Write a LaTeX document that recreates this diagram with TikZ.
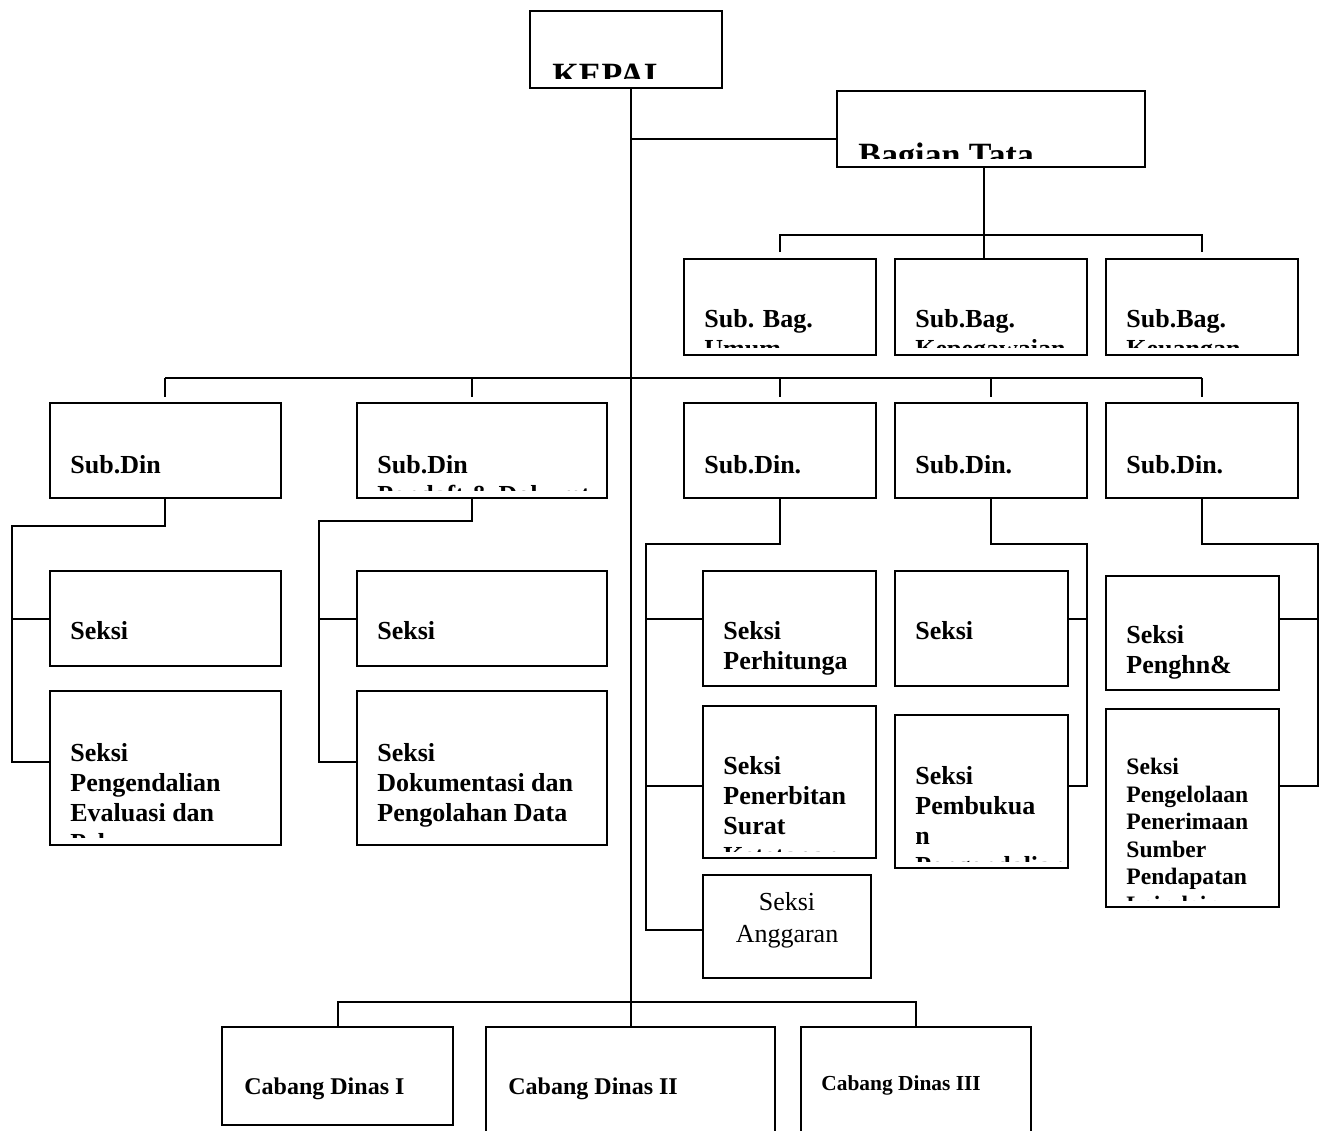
\documentclass[tikz,border=0pt]{standalone}
\usepackage{fontspec}
\setmainfont{Liberation Serif}
\usetikzlibrary{calc}

% box from (x1,y1) to (x2,y2), in pixel units
\newcommand\orgbox[5]{%
  \node[orgbox, minimum width={(#4-#2)*0.5pt}, minimum height={(#5-#3)*0.5pt}]
    (#1) at ({(#2+#4)/2},{(#3+#5)/2}) {};}
% text of a box, cut off at y = #2
\newcommand\boxtext[6]{%
  \begin{scope}
    \clip (#1.north west) rectangle (#1.east |- 0,#2);
    \node[#5, anchor=north west] (#1-t) at (#3,#4) {#6};
  \end{scope}}

\begin{document}
\begin{tikzpicture}
  [x=0.5pt, y=-0.5pt,
   orgbox/.style={draw, line width=1pt, inner sep=0},
   link/.style={line width=1pt},
   lbl/.style={inner sep=0, align=left, font=\bfseries\fontsize{13}{15}\selectfont},
   big/.style={inner sep=0, font=\bfseries\fontsize{17}{20}\selectfont},
   small/.style={inner sep=0, align=left, font=\bfseries\fontsize{11.8}{13.75}\selectfont},
   cab/.style={inner sep=0, font=\bfseries\fontsize{12}{14}\selectfont}]
\path[use as bounding box] (0,0) rectangle (1326,1130);

% boxes
\orgbox{kepala}{530}{11}{722}{88}
\orgbox{bagian}{837}{91}{1145}{167}
\foreach \n/\xa/\xb in {1/684/876, 2/895/1087, 3/1106/1298}
  {\orgbox{subbag\n}{\xa}{259}{\xb}{355}}
\foreach \n/\xa/\xb in {1/50/281, 2/357/607, 3/684/876, 4/895/1087, 5/1106/1298}
  {\orgbox{subdin\n}{\xa}{403}{\xb}{498}}
\orgbox{seksi1a}{50}{571}{281}{666}
\orgbox{seksi1b}{50}{691}{281}{845}
\orgbox{seksi2a}{357}{571}{607}{666}
\orgbox{seksi2b}{357}{691}{607}{845}
\orgbox{seksi3a}{703}{571}{876}{686}
\orgbox{seksi3b}{703}{706}{876}{858}
\orgbox{seksi3c}{703}{875}{871}{978}
\orgbox{seksi4a}{895}{571}{1068}{686}
\orgbox{seksi4b}{895}{715}{1068}{868}
\orgbox{seksi5a}{1106}{576}{1279}{690}
\orgbox{seksi5b}{1106}{709}{1279}{907}
\orgbox{cabang1}{222}{1027}{453}{1125}
\orgbox{cabang2}{486}{1027}{775}{1140}
\orgbox{cabang3}{801}{1027}{1031}{1140}

% texts
\boxtext{kepala}{78}{552}{64}{big}{KEPAL}
\boxtext{bagian}{158}{858}{143}{big}{Bagian Tata}
\boxtext{subbag1}{347}{704}{309}{lbl}{Sub. Bag.\\Umum}
\boxtext{subbag2}{347}{915}{309}{lbl}{Sub.Bag.\\Kepegawaian}
\boxtext{subbag3}{347}{1126}{309}{lbl}{Sub.Bag.\\Keuangan}
\boxtext{subdin1}{490}{70}{455}{lbl}{Sub.Din}
\boxtext{subdin2}{490}{377}{455}{lbl}{Sub.Din\\Pendaft \& Dokumt}
\boxtext{subdin3}{490}{704}{455}{lbl}{Sub.Din.}
\boxtext{subdin4}{490}{915}{455}{lbl}{Sub.Din.}
\boxtext{subdin5}{490}{1126}{455}{lbl}{Sub.Din.}
\boxtext{seksi1a}{660}{70}{621}{lbl}{Seksi}
\boxtext{seksi1b}{837}{70}{743}{lbl}{Seksi\\Pengendalian\\Evaluasi dan\\Pelaporan}
\boxtext{seksi2a}{660}{377}{621}{lbl}{Seksi}
\boxtext{seksi2b}{837}{377}{743}{lbl}{Seksi\\Dokumentasi dan\\Pengolahan Data}
\boxtext{seksi3a}{680}{723}{621}{lbl}{Seksi\\Perhitunga}
\boxtext{seksi3b}{851}{723}{756}{lbl}{Seksi\\Penerbitan\\Surat\\Ketetapan}
\node[inner sep=0, align=center, anchor=north, font=\fontsize{13}{16}\selectfont]
  (seksi3c-t) at (787,892) {Seksi\\Anggaran};
\boxtext{seksi4a}{680}{915}{621}{lbl}{Seksi}
\boxtext{seksi4b}{861}{915}{766}{lbl}{Seksi\\Pembukua\\n\\Pengendalian}
\boxtext{seksi5a}{684}{1126}{625}{lbl}{Seksi\\Penghn\&}
\boxtext{seksi5b}{900}{1126}{758}{small}{Seksi\\Pengelolaan\\Penerimaan\\Sumber\\Pendapatan\\Lain-lain}
\node[cab, anchor=north west] (cabang1-t) at (244,1077) {Cabang Dinas I};
\node[cab, anchor=north west] (cabang2-t) at (508,1077) {Cabang Dinas II};
\node[cab, anchor=north west, font=\bfseries\fontsize{10.7}{13}\selectfont]
  (cabang3-t) at (821,1075) {Cabang Dinas III};

% trunk and top part
\draw[link] (kepala.south -| cabang2.north) -- (cabang2.north);
\coordinate (jbag) at (631,139);
\draw[link] (jbag) -- (jbag -| bagian.west);
\coordinate (bbag) at (984,235);
\draw[link] (bbag |- bagian.south) -- (bbag |- subbag2.north);
\draw[link] ($(subbag1.north)+(0,-6)$) |- (bbag) -| ($(subbag3.north)+(0,-6)$);

% sub.din row
\foreach \n/\x in {1/165, 2/472, 3/780, 4/991, 5/1202} {
  \coordinate (tick\n) at (\x,378);
  \draw[link] (tick\n) -- ($(tick\n |- subdin\n.north)+(0,-5)$);
}
\draw[link] (tick1) -- (tick5);

% seksi columns
\coordinate (c1) at (12,526);   \coordinate (b1a) at (12,619);   \coordinate (b1b) at (12,762);
\coordinate (c2) at (319,521);  \coordinate (b2a) at (319,619);  \coordinate (b2b) at (319,762);
\coordinate (c3) at (646,544);  \coordinate (b3a) at (646,619);  \coordinate (b3b) at (646,786);
\coordinate (b3c) at (646,930);
\coordinate (c4) at (1087,544); \coordinate (b4a) at (1087,619); \coordinate (b4b) at (1087,786);
\coordinate (c5) at (1318,544); \coordinate (b5a) at (1318,619); \coordinate (b5b) at (1318,786);

\draw[link] (tick1 |- subdin1.south) |- (c1) -- (b1b) -- (b1b -| seksi1b.west);
\draw[link] (b1a) -- (b1a -| seksi1a.west);
\draw[link] (tick2 |- subdin2.south) |- (c2) -- (b2b) -- (b2b -| seksi2b.west);
\draw[link] (b2a) -- (b2a -| seksi2a.west);
\draw[link] (tick3 |- subdin3.south) |- (c3) -- (b3c) -- (b3c -| seksi3c.west);
\draw[link] (b3a) -- (b3a -| seksi3a.west);
\draw[link] (b3b) -- (b3b -| seksi3b.west);
\draw[link] (tick4 |- subdin4.south) |- (c4) -- (b4b) -- (b4b -| seksi4b.east);
\draw[link] (b4a) -- (b4a -| seksi4a.east);
\draw[link] (tick5 |- subdin5.south) |- (c5) -- (b5b) -- (b5b -| seksi5b.east);
\draw[link] (b5a) -- (b5a -| seksi5a.east);

% cabang dinas
\coordinate (bcab) at (631,1002);
\draw[link] (cabang1.north) |- (bcab) -| (cabang3.north);
\end{tikzpicture}
\end{document}
